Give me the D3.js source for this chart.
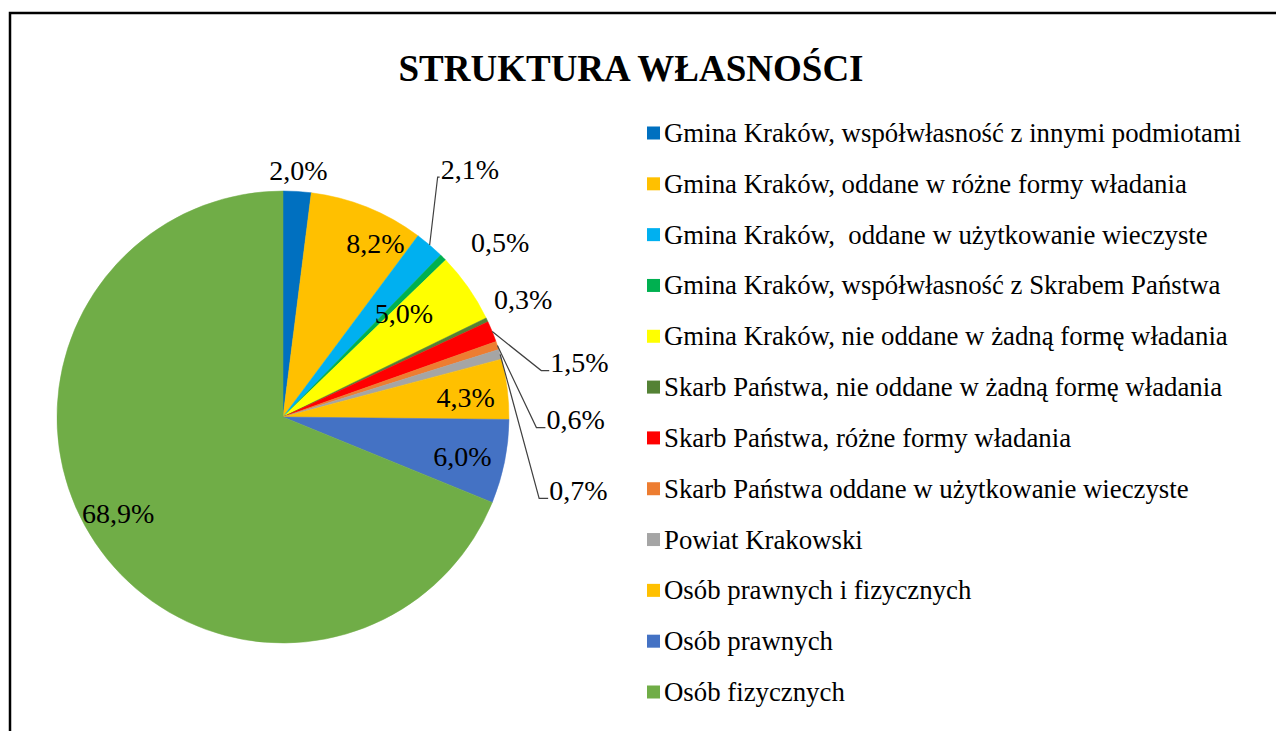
<!DOCTYPE html>
<html>
<head>
<meta charset="utf-8">
<script src="https://cdn.jsdelivr.net/npm/d3@7"></script>
<style>
  html, body { margin: 0; padding: 0; background: #fff; }
  svg { display: block; }
  text { font-family: "Liberation Serif", "Times New Roman", serif; fill: #000; }
</style>
</head>
<body>
<svg id="chart" width="1276" height="731"></svg>
<script>
// ---- data ----
const title = "STRUKTURA WŁASNOŚCI";
const categories = [
  "Gmina Kraków, współwłasność z innymi podmiotami",
  "Gmina Kraków, oddane w różne formy władania",
  "Gmina Kraków,  oddane w użytkowanie wieczyste",
  "Gmina Kraków, współwłasność z Skrabem Państwa",
  "Gmina Kraków, nie oddane w żadną formę władania",
  "Skarb Państwa, nie oddane w żadną formę władania",
  "Skarb Państwa, różne formy władania",
  "Skarb Państwa oddane w użytkowanie wieczyste",
  "Powiat Krakowski",
  "Osób prawnych i fizycznych",
  "Osób prawnych",
  "Osób fizycznych"
];
const values = [2.0, 8.2, 2.1, 0.5, 5.0, 0.3, 1.5, 0.6, 0.7, 4.3, 6.0, 68.9];
const colors = ["#0070C0", "#FFC000", "#00B0F0", "#00B050", "#FFFF00", "#548235",
                "#FF0000", "#ED7D31", "#A5A5A5", "#FFC000", "#4472C4", "#70AD47"];

// ---- layout (styles / label placement, not data) ----
const cx = 283, cy = 417, R = 226;
const labelLayout = [
  {mode: "out", dx: 0, dy: 0},
  {mode: "in", dx: 24, dy: -4},
  {mode: "leader", dx: 8, dy: -68, h: 2},
  {mode: "out", dx: 42, dy: 0},
  {mode: "in", dx: -29, dy: 1},
  {mode: "out", dx: 17, dy: -11},
  {mode: "leader", dx: 49, dy: 39, h: 8},
  {mode: "leader", dx: 39, dy: 82, h: 9},
  {mode: "leader", dx: 39, dy: 144, h: 9}
  ,
  {mode: "in", dx: 1, dy: 3},
  {mode: "in", dx: 0, dy: 3},
  {mode: "in", dx: -13, dy: -6}
];
const labelFont = "28px", legendFont = "26.8px", titleFont = "37px";

const svg = d3.select("#chart");

// frame
svg.append("rect")
  .attr("x", 10).attr("y", 13).attr("width", 1400).attr("height", 900)
  .attr("fill", "none").attr("stroke", "#000").attr("stroke-width", 2.5);

// title
svg.append("text")
  .attr("x", 631).attr("y", 81)
  .attr("text-anchor", "middle")
  .style("font-size", titleFont).style("font-weight", "bold")
  .text(title);

// pie
const pie = d3.pie().sort(null).value(d => d)
  .startAngle(0).endAngle(2 * Math.PI);
const arcs = pie(values);
const arc = d3.arc().innerRadius(0).outerRadius(R);

const g = svg.append("g").attr("transform", `translate(${cx},${cy})`);
g.selectAll("path.slice").data(arcs).enter().append("path")
  .attr("class", "slice")
  .attr("d", arc)
  .attr("fill", (d, i) => colors[i])
  .attr("stroke", (d, i) => colors[i])
  .attr("stroke-width", 0.5);

const fmt = v => d3.format(".1f")(v).replace(".", ",") + "%";
const polar = (a, r) => [r * Math.sin(a), -r * Math.cos(a)];

arcs.forEach((d, i) => {
  const L = labelLayout[i];
  const mid = (d.startAngle + d.endAngle) / 2;
  if (L.mode === "in" || L.mode === "out") {
    const p = polar(mid, L.mode === "in" ? R * 0.81 : R + 21);
    g.append("text")
      .attr("x", p[0] + L.dx).attr("y", p[1] + L.dy)
      .attr("text-anchor", "middle").attr("dominant-baseline", "central")
      .style("font-size", labelFont)
      .text(fmt(values[i]));
  } else {
    const p0 = polar(mid, R);
    const p1 = [p0[0] + L.dx, p0[1] + L.dy];
    const p2 = [p1[0] + L.h, p1[1]];
    g.append("path")
      .attr("d", d3.line()([p0, p1, p2]))
      .attr("fill", "none").attr("stroke", "#404040").attr("stroke-width", 1.2);
    g.append("text")
      .attr("x", p2[0] + 1).attr("y", p1[1] - 8)
      .attr("text-anchor", "start").attr("dominant-baseline", "central")
      .style("font-size", labelFont)
      .text(fmt(values[i]));
  }
});

// legend
const legendY = d3.scalePoint().domain(d3.range(categories.length)).range([133, 692]);
const lg = svg.append("g");
categories.forEach((c, i) => {
  const y = legendY(i);
  lg.append("rect")
    .attr("x", 647).attr("y", y - 6.5).attr("width", 13).attr("height", 13)
    .attr("fill", colors[i]);
  lg.append("text")
    .attr("x", 664).attr("y", y)
    .attr("dominant-baseline", "central")
    .style("font-size", legendFont)
    .style("white-space", "pre")
    .attr("xml:space", "preserve")
    .text(c);
});
</script>
</body>
</html>
